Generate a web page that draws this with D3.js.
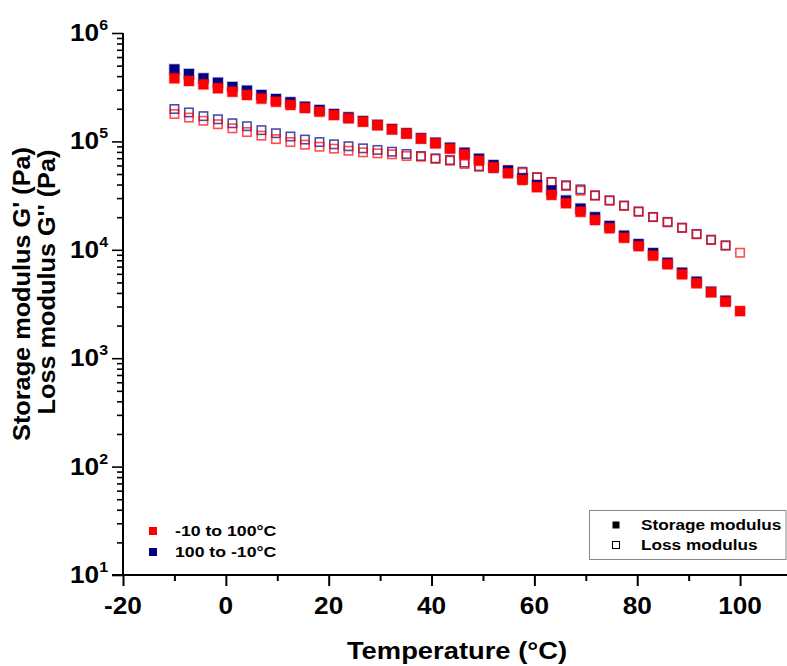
<!DOCTYPE html>
<html><head><meta charset="utf-8">
<script src="https://cdn.jsdelivr.net/npm/d3@7"></script>
<style>body{margin:0;background:#fff}svg{display:block}text{font-family:"Liberation Sans",Arial,sans-serif;font-weight:bold;fill:#000}</style>
</head><body><svg id="c" width="787" height="666"></svg>
<script>
const temps = [-10,-7.18,-4.36,-1.54,1.28,4.10,6.92,9.74,12.56,15.38,18.21,21.03,23.85,26.67,29.49,32.31,35.13,37.95,40.77,43.59,46.41,49.23,52.05,54.87,57.69,60.51,63.33,66.15,68.97,71.79,74.62,77.44,80.26,83.08,85.90,88.72,91.54,94.36,97.18,100];
// heating -10 -> 100 (red)
const heatStorage = [382000,361000,336000,309000,287000,268000,248000,232000,217000,203000,188000,175000,163000,152000,141000,129000,118000,106000,95900,85700,76000,66400,57700,50800,44100,37800,32100,26900,22400,18800,15800,12900,10800,8830,7350,5940,4910,4060,3320,2720];
const heatLoss = [179000,166000,155000,144000,132000,122000,113000,105000,98600,93300,89300,85700,82000,79300,77600,76000,73300,72300,68900,66400,61900,59300,56900,54500,51400,46700,42200,38800,35100,31600,28400,25400,22400,20000,17900,15900,13900,12300,10900,9400];
// cooling 100 -> -10 (blue), listed by ascending temperature, no point at 100
const coolStorage = [462000,419000,382000,348000,318000,294000,268000,246000,230000,209000,195000,179000,167000,154000,142000,130000,119000,107000,97300,87500,78700,69200,60500,53300,45700,39600,35100,28500,24000,20000,16600,13500,11300,9330,7600,6150,5080,4100,3390];
const coolLoss = [199000,185000,171000,160000,147000,138000,127000,119000,111000,104000,98600,94000,90200,86300,83400,80400,76600,73300,69800,67300,63700,58500,56500,54500,52500,46700,42200,39400,36100,31800,28600,25600,22600,20100,18100,16000,14000,12400,11000];
const xTicks = [-20,0,20,40,60,80,100];
const yTickExps = [1,2,3,4,5,6];
const runLabels = ["-10 to 100°C","100 to -10°C"];
const runColors = ["#ff0000","#000080"];
const typeLabels = ["Storage modulus","Loss modulus"];

const SX = 1.14; // horizontal stretch of the original lettering
const svg = d3.select("#c");
const x = d3.scaleLinear().domain([-20,110]).range([123,791.5]);
const y = d3.scaleLog().domain([10,1e6]).range([575,33]);

function htext(g, tx, ty, size, anchor, str, sx){
  return g.append("text").attr("transform",`translate(${tx},${ty}) scale(${sx||SX},1)`)
    .attr("text-anchor",anchor).attr("font-size",size).text(str);
}

// axes
const xAxis = d3.axisBottom(x).tickValues(d3.range(-20,111,10)).tickSize(6).tickFormat("");
svg.append("g").attr("transform","translate(0,575)").call(xAxis)
  .call(g=>{g.select(".domain").attr("stroke-width",2).attr("d","M112,0H787");
           g.selectAll(".tick line").attr("stroke-width",2).attr("y2",d=>xTicks.includes(d)?11:6);});
const xl = svg.append("g");
xTicks.forEach(d=>htext(xl, x(d), 614, 23, "middle", d));

const minorY = [];
for (let e=1;e<6;e++) for (let m=1;m<10;m++) minorY.push(m*Math.pow(10,e));
minorY.push(1e6);
const yAxis = d3.axisLeft(y).tickValues(minorY).tickSize(6).tickFormat("");
svg.append("g").attr("transform","translate(123,0)").call(yAxis)
  .call(g=>{g.select(".domain").attr("stroke-width",2).attr("d","M0,33V575");
           g.selectAll(".tick line").attr("stroke-width",1.6).attr("x2",d=>Math.abs(Math.log10(d)-Math.round(Math.log10(d)))<1e-9?-11:-6);});
const ylg = svg.append("g");
yTickExps.forEach(d=>{
  const t = htext(ylg, 108, y(Math.pow(10,d))+8, 23, "end", null);
  t.append("tspan").text("10");
  t.append("tspan").attr("font-size",14).attr("dy",-11).text(d);
});

// titles
htext(svg, 457, 659, 24, "middle", "Temperature (°C)");
svg.append("text").attr("transform","translate(30,294) rotate(-90) scale(1.1,1)").attr("text-anchor","middle").attr("font-size",23).text("Storage modulus G' (Pa)");
svg.append("text").attr("transform","translate(55,282) rotate(-90) scale(1.1,1)").attr("text-anchor","middle").attr("font-size",23).text("Loss modulus G'' (Pa)");

// data
const S = 10;
function filled(data,color){
  svg.append("g").selectAll("rect").data(data).join("rect")
    .attr("x",(d,i)=>x(temps[i])-S/2).attr("y",d=>y(d)-S/2).attr("width",S).attr("height",S)
    .attr("fill",color).attr("stroke",color).attr("stroke-opacity",0.3).attr("stroke-width",1.5);
}
function open(data,color){
  svg.append("g").selectAll("rect").data(data).join("rect")
    .attr("x",(d,i)=>x(temps[i])-S/2+0.8).attr("y",d=>y(d)-S/2+0.8).attr("width",S-1.6).attr("height",S-1.6)
    .attr("fill","none").attr("stroke",color).attr("stroke-opacity",0.7).attr("stroke-width",1.6);
}
open(coolLoss,runColors[1]);
open(heatLoss,runColors[0]);
filled(coolStorage,runColors[1]);
filled(heatStorage,runColors[0]);

// legend 1
const l1 = svg.append("g");
runLabels.forEach((t,i)=>{
  l1.append("rect").attr("x",149).attr("y",527+i*21).attr("width",8).attr("height",8).attr("fill",runColors[i]);
  htext(l1, 175, 536+i*21, 15.5, "start", t);
});
// legend 2
const l2 = svg.append("g");
l2.append("rect").attr("x",589.5).attr("y",510.5).attr("width",196.5).attr("height",49).attr("fill","#fff").attr("stroke","#888");
typeLabels.forEach((t,i)=>{
  l2.append("rect").attr("x",612.5).attr("y",521.5+i*20).attr("width",7).attr("height",7)
    .attr("fill",i===0?"#000":"#fff").attr("stroke","#000").attr("stroke-width",i===0?0:1);
  htext(l2, 641, 530+i*20, 15.5, "start", t, 1.11);
});
</script></body></html>
